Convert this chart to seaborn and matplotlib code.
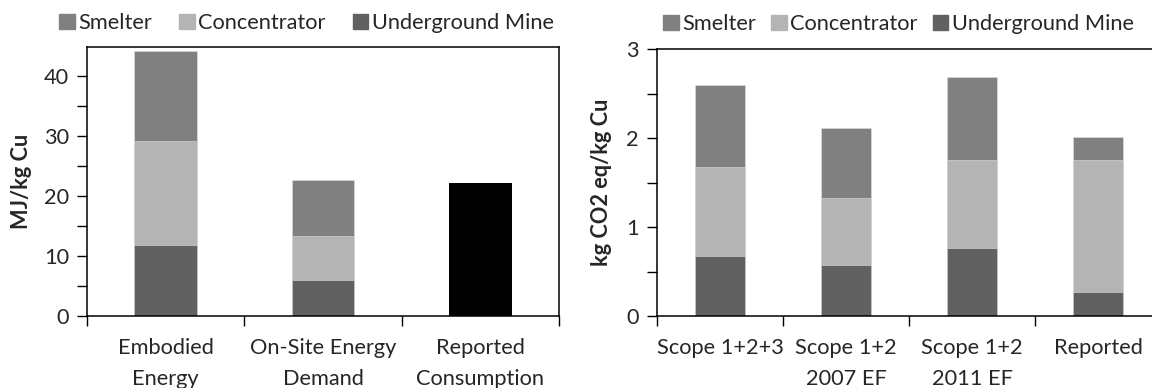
import numpy as np
import matplotlib
matplotlib.use("Agg")
import matplotlib.pyplot as plt
from matplotlib.patches import Patch
from matplotlib.ticker import MultipleLocator
import seaborn as sns

# left panel: energy (MJ/kg Cu)
energy_cats = ["Embodied\nEnergy", "On-Site Energy\nDemand", "Reported\nConsumption"]
energy_mine = [11.8, 6.0, 0.0]
energy_conc = [17.4, 7.3, 0.0]
energy_smelter = [14.9, 9.3, 0.0]
energy_reported = [0.0, 0.0, 22.1]

# right panel: emissions (kg CO2 eq/kg Cu)
ghg_cats = ["Scope 1+2+3", "Scope 1+2\n2007 EF", "Scope 1+2\n2011 EF", "Reported"]
ghg_mine = [0.67, 0.57, 0.77, 0.27]
ghg_conc = [1.01, 0.76, 0.98, 1.49]
ghg_smelter = [0.92, 0.79, 0.94, 0.25]

series_names = ["Smelter", "Concentrator", "Underground Mine"]
c_smelter = "#808080"
c_conc = "#b4b4b4"
c_mine = "#616161"

sns.set_style("white")
plt.rcParams["font.family"] = ["Lato", "DejaVu Sans"]
FS = 15.7

W, H = 1152, 388
fig = plt.figure(figsize=(W / 100, H / 100), dpi=100)
ax1 = fig.add_axes([87 / W, 72 / H, (559 - 87) / W, (316 - 47.3) / H])
ax2 = fig.add_axes([657 / W, 72 / H, (1161 - 657) / W, (316 - 49.3) / H])


def stacked(ax, cats, mine, conc, smelter, extra=None):
    mine = np.array(mine)
    c1 = mine + np.array(conc)
    c2 = c1 + np.array(smelter)
    for vals, col in [(c2, c_smelter), (c1, c_conc), (mine, c_mine)]:
        sns.barplot(x=cats, y=vals, color=col, width=0.4, ax=ax,
                    edgecolor="#e0e0e0", linewidth=0.4, saturation=1)
    if extra is not None:
        sns.barplot(x=cats, y=extra, color="black", width=0.4, ax=ax,
                    saturation=1, linewidth=0)
    n = len(cats)
    ax.set_xlim(-0.5, n - 0.5)
    ax.set_xticks(np.arange(n + 1) - 0.5, labels=[""] * (n + 1))
    ax.set_xticks(np.arange(n), labels=cats, minor=True)
    for t in ax.get_xticklabels(minor=True):
        t.set_linespacing(1.68)
    ax.tick_params(axis="x", which="major", length=7, width=1, direction="out",
                   bottom=True, color="black")
    ax.tick_params(axis="x", which="minor", length=0, pad=16, labelsize=FS)
    ax.tick_params(axis="y", which="both", length=7, width=1, direction="out",
                   left=True, color="black", labelsize=FS, pad=6)
    for s in ax.spines.values():
        s.set_visible(True)
        s.set_color("black")
        s.set_linewidth(1.1)
    ax.set_xlabel("")
    handles = [Patch(color=c) for c in (c_smelter, c_conc, c_mine)]
    return handles


def legend(ax, handles, x0_px, y_px, colsp):
    fx = x0_px / W
    fy = 1 - y_px / H
    ax.legend(handles, series_names, ncol=3, frameon=False, fontsize=FS,
              loc="center left", bbox_to_anchor=(fx, fy),
              bbox_transform=fig.transFigure,
              handlelength=0.72, handleheight=0.72, handletextpad=0.15,
              columnspacing=colsp, borderaxespad=0, borderpad=0)


h = stacked(ax1, energy_cats, energy_mine, energy_conc, energy_smelter, energy_reported)
ax1.set_ylim(0, 44.8)
ax1.yaxis.set_major_locator(MultipleLocator(10))
ax1.yaxis.set_minor_locator(MultipleLocator(5))
ax1.set_ylabel("MJ/kg Cu", fontsize=FS, fontweight="bold", va="center")
ax1.yaxis.set_label_coords((22 - 87) / 472, 0.5)
legend(ax1, h, 59, 23, 1.25)

h = stacked(ax2, ghg_cats, ghg_mine, ghg_conc, ghg_smelter)
ax2.set_ylim(0, 3)
ax2.yaxis.set_major_locator(MultipleLocator(1))
ax2.yaxis.set_minor_locator(MultipleLocator(0.5))
ax2.set_ylabel("kg CO2 eq/kg Cu", fontsize=FS, fontweight="bold", va="center")
ax2.yaxis.set_label_coords((602 - 657) / 504, 0.5)
legend(ax2, h, 663, 24, 0.7)

fig.savefig("out.png", dpi=100)
